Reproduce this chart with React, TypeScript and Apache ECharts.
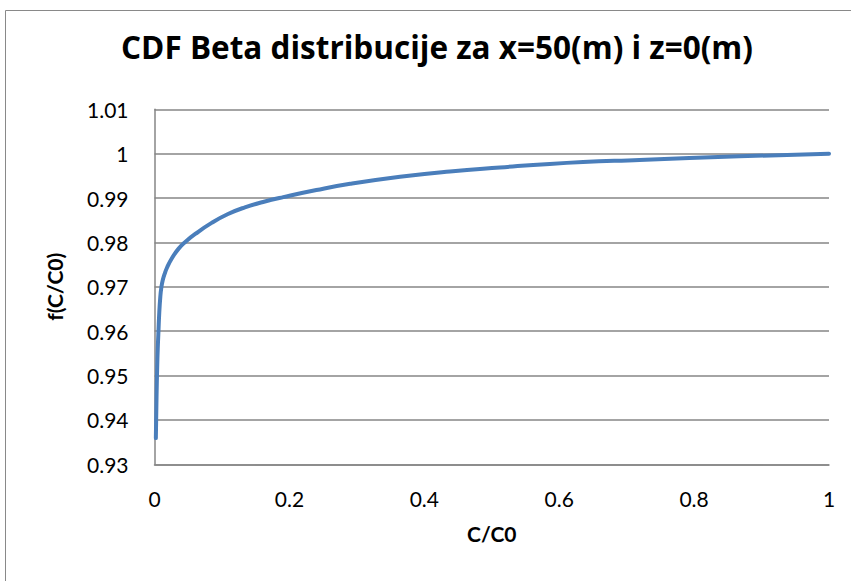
import React, { useEffect, useRef } from "react";
import * as echarts from "echarts";

const titleText = "CDF Beta distribucije za x=50(m) i z=0(m)";
const xName = "C/C0";
const yName = "f(C/C0)";

const xValues = [
  0.002, 0.003, 0.004, 0.0048, 0.0058, 0.0071, 0.0086, 0.0101, 0.0121, 0.015,
  0.0185, 0.026, 0.0358, 0.0456, 0.0604, 0.0847, 0.109, 0.134, 0.161, 0.191,
  0.24, 0.29, 0.364, 0.438, 0.512, 0.586, 0.719, 0.867, 1.0,
];
const yValues = [
  0.9359, 0.945, 0.952, 0.956, 0.9597, 0.9643, 0.9677, 0.9698, 0.9714, 0.9729,
  0.9743, 0.9765, 0.9786, 0.9801, 0.9819, 0.9844, 0.9864, 0.9879, 0.9891,
  0.9902, 0.9918, 0.9932, 0.9948, 0.996, 0.9969, 0.9977, 0.9986, 0.9994, 1.0,
];

const font = "Lato, 'Open Sans', sans-serif";

export default function App() {
  const ref = useRef<HTMLDivElement>(null);
  useEffect(() => {
    if (!ref.current) return;
    const chart = echarts.init(ref.current, null, { renderer: "svg" });
    const data = xValues.map((x, i) => [x, yValues[i]]);
    chart.setOption({
      animation: false,
      backgroundColor: "#ffffff",
      textStyle: { fontFamily: font },
      graphic: [
        {
          type: "rect",
          shape: { x: 5.5, y: 10.5, width: 900, height: 700 },
          style: { fill: "none", stroke: "#898989", lineWidth: 1 },
          silent: true,
        },
      ],
      title: {
        text: titleText,
        left: 432,
        textAlign: "center",
        top: 25,
        textStyle: {
          fontFamily: "'Open Sans', Lato, sans-serif",
          fontWeight: "bold",
          fontSize: 31.5,
          color: "#000",
        },
      },
      grid: { left: 154.5, right: 22, top: 109.3, bottom: 116.7, containLabel: false },
      xAxis: {
        type: "value",
        min: 0,
        max: 1,
        interval: 0.2,
        name: xName,
        nameLocation: "middle",
        nameGap: 59,
        nameTextStyle: { fontFamily: font, fontWeight: "bold", fontSize: 21, color: "#000" },
        axisLine: { show: true, lineStyle: { color: "#868686", width: 1.5 } },
        axisTick: { show: false },
        splitLine: { show: false },
        axisLabel: {
          fontFamily: font,
          fontSize: 21,
          color: "#000",
          margin: 24,
          formatter: (v: number) => String(+v.toFixed(2)),
        },
      },
      yAxis: {
        type: "value",
        min: 0.93,
        max: 1.01,
        interval: 0.01,
        name: yName,
        nameLocation: "middle",
        nameGap: 90,
        nameTextStyle: { fontFamily: font, fontWeight: "bold", fontSize: 21, color: "#000" },
        axisLine: { show: true, lineStyle: { color: "#868686", width: 1.5 } },
        axisTick: { show: false },
        splitLine: { show: true, lineStyle: { color: "#868686", width: 1.5 } },
        axisLabel: {
          fontFamily: font,
          fontSize: 21,
          color: "#000",
          margin: 26,
          formatter: (v: number) => String(+v.toFixed(2)),
        },
      },
      series: [
        {
          type: "line",
          data,
          smooth: 0.5,
          showSymbol: false,
          lineStyle: { color: "#4a7ebb", width: 4, cap: "round", join: "round" },
        },
      ],
    });
    return () => chart.dispose();
  }, []);
  return (
    <div
      ref={ref}
      style={{ position: "fixed", left: 0, top: 0, width: 851, height: 581 }}
    />
  );
}
